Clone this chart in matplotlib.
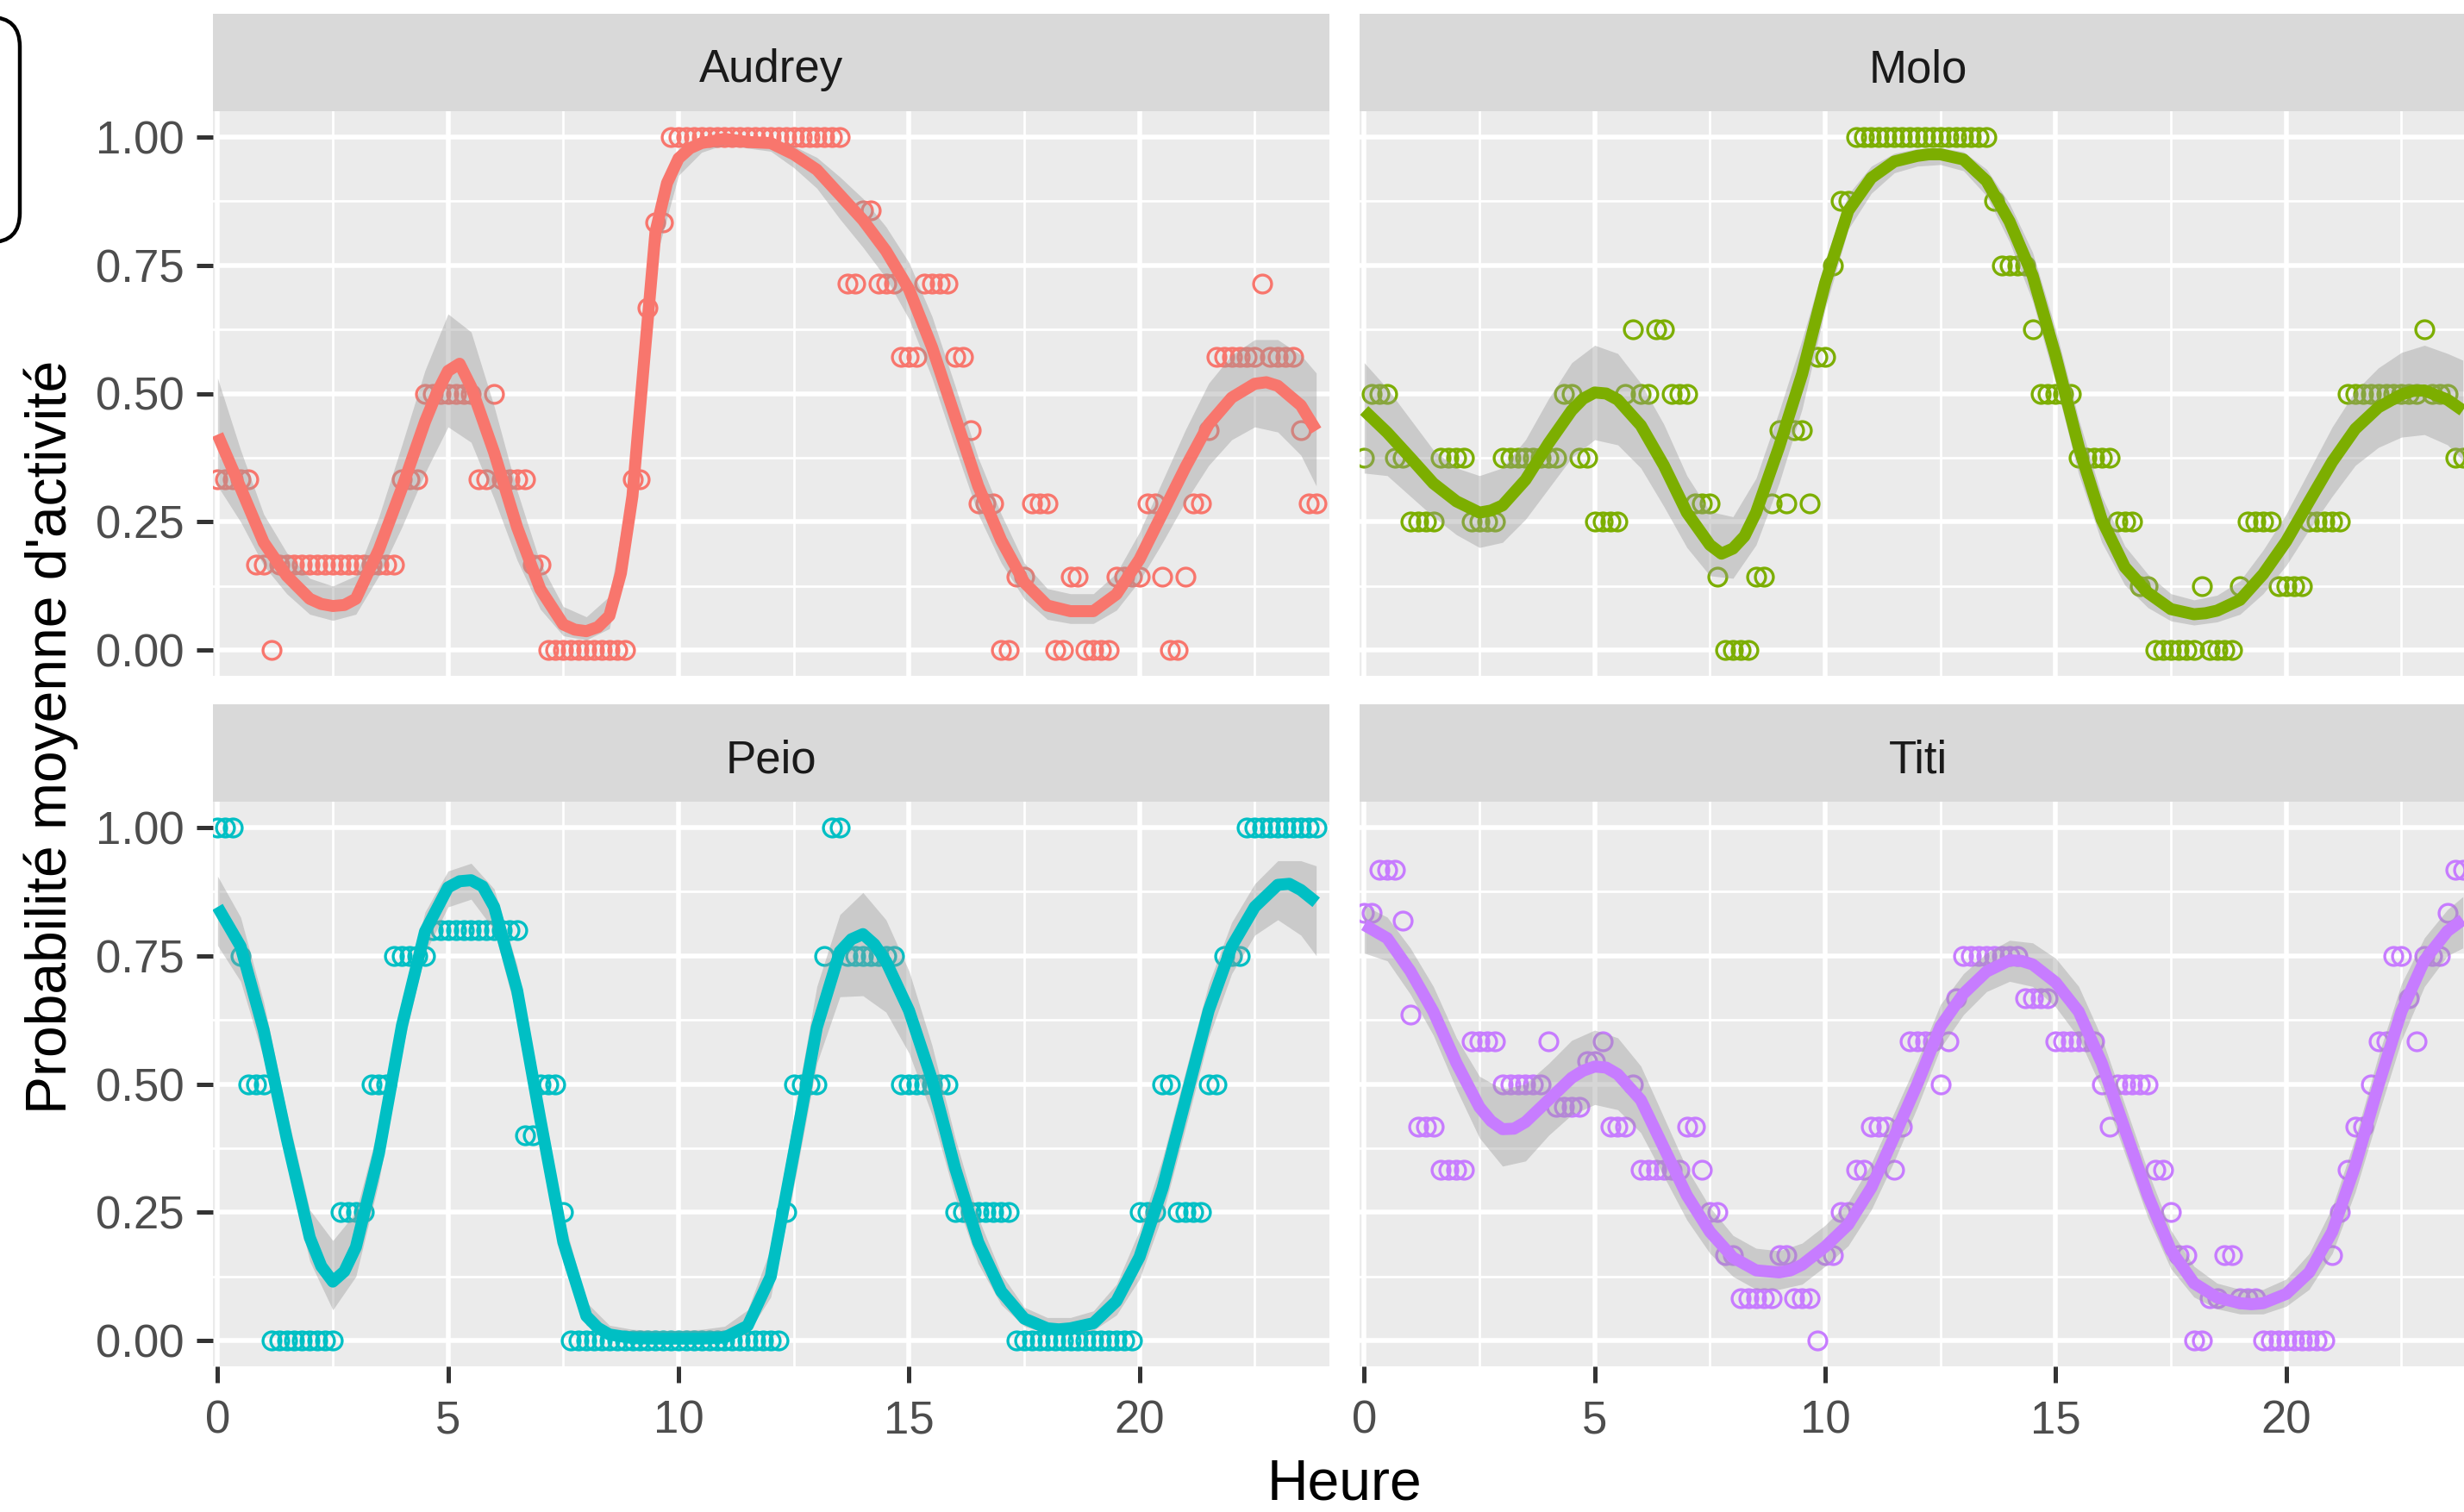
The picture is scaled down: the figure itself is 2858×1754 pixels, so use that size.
import numpy as np
import matplotlib.pyplot as plt
from matplotlib.patches import FancyBboxPatch

plt.rcParams['font.family'] = ['Liberation Sans', 'DejaVu Sans']

# une moyenne toutes les 10 minutes, de 0h a 23h50
heures = np.arange(144) / 6

audrey = [0.333, 0.333, 0.333, 0.333, 0.333, 0.167, 0.167, 0.0, 0.167, 0.167, 0.167, 0.167,
          0.167, 0.167, 0.167, 0.167, 0.167, 0.167, 0.167, 0.167, 0.167, 0.167, 0.167, 0.167,
          0.333, 0.333, 0.333, 0.5, 0.5, 0.5, 0.5, 0.5, 0.5, 0.5, 0.333, 0.333,
          0.5, 0.333, 0.333, 0.333, 0.333, 0.167, 0.167, 0.0, 0.0, 0.0, 0.0, 0.0,
          0.0, 0.0, 0.0, 0.0, 0.0, 0.0, 0.333, 0.333, 0.667, 0.833, 0.833, 1.0,
          1.0, 1.0, 1.0, 1.0, 1.0, 1.0, 1.0, 1.0, 1.0, 1.0, 1.0, 1.0,
          1.0, 1.0, 1.0, 1.0, 1.0, 1.0, 1.0, 1.0, 1.0, 1.0, 0.714, 0.714,
          0.857, 0.857, 0.714, 0.714, 0.714, 0.571, 0.571, 0.571, 0.714, 0.714, 0.714, 0.714,
          0.571, 0.571, 0.429, 0.286, 0.286, 0.286, 0.0, 0.0, 0.143, 0.143, 0.286, 0.286,
          0.286, 0.0, 0.0, 0.143, 0.143, 0.0, 0.0, 0.0, 0.0, 0.143, 0.143, 0.143,
          0.143, 0.286, 0.286, 0.143, 0.0, 0.0, 0.143, 0.286, 0.286, 0.429, 0.571, 0.571,
          0.571, 0.571, 0.571, 0.571, 0.714, 0.571, 0.571, 0.571, 0.571, 0.429, 0.286, 0.286]

molo = [0.375, 0.5, 0.5, 0.5, 0.375, 0.375, 0.25, 0.25, 0.25, 0.25, 0.375, 0.375,
        0.375, 0.375, 0.25, 0.25, 0.25, 0.25, 0.375, 0.375, 0.375, 0.375, 0.375, 0.375,
        0.375, 0.375, 0.5, 0.5, 0.375, 0.375, 0.25, 0.25, 0.25, 0.25, 0.5, 0.625,
        0.5, 0.5, 0.625, 0.625, 0.5, 0.5, 0.5, 0.286, 0.286, 0.286, 0.143, 0.0,
        0.0, 0.0, 0.0, 0.143, 0.143, 0.286, 0.429, 0.286, 0.429, 0.429, 0.286, 0.571,
        0.571, 0.75, 0.875, 0.875, 1.0, 1.0, 1.0, 1.0, 1.0, 1.0, 1.0, 1.0,
        1.0, 1.0, 1.0, 1.0, 1.0, 1.0, 1.0, 1.0, 1.0, 1.0, 0.875, 0.75,
        0.75, 0.75, 0.75, 0.625, 0.5, 0.5, 0.5, 0.5, 0.5, 0.375, 0.375, 0.375,
        0.375, 0.375, 0.25, 0.25, 0.25, 0.125, 0.125, 0.0, 0.0, 0.0, 0.0, 0.0,
        0.0, 0.125, 0.0, 0.0, 0.0, 0.0, 0.125, 0.25, 0.25, 0.25, 0.25, 0.125,
        0.125, 0.125, 0.125, 0.25, 0.25, 0.25, 0.25, 0.25, 0.5, 0.5, 0.5, 0.5,
        0.5, 0.5, 0.5, 0.5, 0.5, 0.5, 0.625, 0.5, 0.5, 0.5, 0.375, 0.375]

peio = [1.0, 1.0, 1.0, 0.75, 0.5, 0.5, 0.5, 0.0, 0.0, 0.0, 0.0, 0.0,
        0.0, 0.0, 0.0, 0.0, 0.25, 0.25, 0.25, 0.25, 0.5, 0.5, 0.5, 0.75,
        0.75, 0.75, 0.75, 0.75, 0.8, 0.8, 0.8, 0.8, 0.8, 0.8, 0.8, 0.8,
        0.8, 0.8, 0.8, 0.8, 0.4, 0.4, 0.5, 0.5, 0.5, 0.25, 0.0, 0.0,
        0.0, 0.0, 0.0, 0.0, 0.0, 0.0, 0.0, 0.0, 0.0, 0.0, 0.0, 0.0,
        0.0, 0.0, 0.0, 0.0, 0.0, 0.0, 0.0, 0.0, 0.0, 0.0, 0.0, 0.0,
        0.0, 0.0, 0.25, 0.5, 0.5, 0.5, 0.5, 0.75, 1.0, 1.0, 0.75, 0.75,
        0.75, 0.75, 0.75, 0.75, 0.75, 0.5, 0.5, 0.5, 0.5, 0.5, 0.5, 0.5,
        0.25, 0.25, 0.25, 0.25, 0.25, 0.25, 0.25, 0.25, 0.0, 0.0, 0.0, 0.0,
        0.0, 0.0, 0.0, 0.0, 0.0, 0.0, 0.0, 0.0, 0.0, 0.0, 0.0, 0.0,
        0.25, 0.25, 0.25, 0.5, 0.5, 0.25, 0.25, 0.25, 0.25, 0.5, 0.5, 0.75,
        0.75, 0.75, 1.0, 1.0, 1.0, 1.0, 1.0, 1.0, 1.0, 1.0, 1.0, 1.0]

titi = [0.833, 0.833, 0.917, 0.917, 0.917, 0.818, 0.636, 0.417, 0.417, 0.417, 0.333, 0.333,
        0.333, 0.333, 0.583, 0.583, 0.583, 0.583, 0.5, 0.5, 0.5, 0.5, 0.5, 0.5,
        0.583, 0.455, 0.455, 0.455, 0.455, 0.545, 0.545, 0.583, 0.417, 0.417, 0.417, 0.5,
        0.333, 0.333, 0.333, 0.333, 0.333, 0.333, 0.417, 0.417, 0.333, 0.25, 0.25, 0.167,
        0.167, 0.083, 0.083, 0.083, 0.083, 0.083, 0.167, 0.167, 0.083, 0.083, 0.083, 0.0,
        0.167, 0.167, 0.25, 0.25, 0.333, 0.333, 0.417, 0.417, 0.417, 0.333, 0.417, 0.583,
        0.583, 0.583, 0.583, 0.5, 0.583, 0.667, 0.75, 0.75, 0.75, 0.75, 0.75, 0.75,
        0.75, 0.75, 0.667, 0.667, 0.667, 0.667, 0.583, 0.583, 0.583, 0.583, 0.583, 0.583,
        0.5, 0.417, 0.5, 0.5, 0.5, 0.5, 0.5, 0.333, 0.333, 0.25, 0.167, 0.167,
        0.0, 0.0, 0.083, 0.083, 0.167, 0.167, 0.083, 0.083, 0.083, 0.0, 0.0, 0.0,
        0.0, 0.0, 0.0, 0.0, 0.0, 0.0, 0.167, 0.25, 0.333, 0.417, 0.417, 0.5,
        0.583, 0.583, 0.75, 0.75, 0.667, 0.583, 0.75, 0.75, 0.75, 0.833, 0.917, 0.917]

# courbes lissees (geom_smooth) relevees toutes les demi-heures, avec l'intervalle de confiance
lisse_x = np.append(np.arange(0, 24, 0.5), 23.833)

audrey_lisse = [0.42, 0.316, 0.21, 0.145, 0.10, 0.086, 0.10, 0.196, 0.316, 0.445, 0.544, 0.513,
                0.385, 0.239, 0.119, 0.05, 0.037, 0.067, 0.30, 0.815, 0.958, 0.988, 0.996, 0.99,
                0.988, 0.966, 0.936, 0.887, 0.838, 0.778, 0.703, 0.59, 0.455, 0.32, 0.214, 0.132,
                0.087, 0.076, 0.076, 0.109, 0.177, 0.267, 0.357, 0.44, 0.492, 0.519, 0.515, 0.477, 0.428]
audrey_bas = [0.32, 0.25, 0.165, 0.11, 0.07, 0.058, 0.07, 0.145, 0.24, 0.345, 0.435, 0.405,
              0.295, 0.175, 0.08, 0.028, 0.02, 0.042, 0.25, 0.76, 0.925, 0.97, 0.985, 0.978,
              0.972, 0.94, 0.90, 0.84, 0.785, 0.725, 0.645, 0.53, 0.395, 0.265, 0.17, 0.10,
              0.06, 0.052, 0.052, 0.078, 0.135, 0.21, 0.29, 0.36, 0.41, 0.435, 0.425, 0.38, 0.32]
audrey_haut = [0.53, 0.39, 0.265, 0.19, 0.14, 0.125, 0.145, 0.26, 0.40, 0.545, 0.655, 0.62,
               0.475, 0.31, 0.17, 0.085, 0.065, 0.105, 0.355, 0.86, 0.978, 0.996, 0.999, 0.997,
               0.996, 0.982, 0.96, 0.922, 0.88, 0.825, 0.755, 0.65, 0.515, 0.375, 0.265, 0.17,
               0.12, 0.11, 0.11, 0.15, 0.23, 0.33, 0.43, 0.52, 0.575, 0.605, 0.605, 0.575, 0.54]

molo_lisse = [0.467, 0.424, 0.375, 0.325, 0.29, 0.268, 0.282, 0.332, 0.403, 0.467, 0.502, 0.488,
              0.438, 0.36, 0.268, 0.205, 0.198, 0.268, 0.396, 0.538, 0.715, 0.856, 0.92, 0.952,
              0.963, 0.966, 0.956, 0.914, 0.835, 0.73, 0.573, 0.396, 0.254, 0.162, 0.112, 0.08,
              0.07, 0.077, 0.098, 0.148, 0.212, 0.29, 0.367, 0.431, 0.473, 0.498, 0.506, 0.488, 0.467]
molo_bas = [0.345, 0.34, 0.30, 0.26, 0.225, 0.20, 0.21, 0.255, 0.315, 0.375, 0.41, 0.40,
            0.355, 0.28, 0.20, 0.145, 0.14, 0.205, 0.325, 0.47, 0.665, 0.82, 0.89, 0.93,
            0.943, 0.946, 0.934, 0.885, 0.795, 0.68, 0.52, 0.343, 0.21, 0.127, 0.083, 0.057,
            0.049, 0.055, 0.07, 0.11, 0.165, 0.235, 0.30, 0.36, 0.395, 0.415, 0.42, 0.40, 0.37]
molo_haut = [0.56, 0.51, 0.45, 0.39, 0.355, 0.34, 0.355, 0.41, 0.49, 0.56, 0.594, 0.578,
             0.52, 0.44, 0.34, 0.27, 0.26, 0.335, 0.465, 0.605, 0.76, 0.888, 0.943, 0.968,
             0.977, 0.979, 0.971, 0.937, 0.87, 0.775, 0.625, 0.45, 0.30, 0.203, 0.148, 0.11,
             0.098, 0.107, 0.135, 0.195, 0.265, 0.35, 0.435, 0.505, 0.55, 0.58, 0.594, 0.578, 0.565]

peio_lisse = [0.845, 0.768, 0.605, 0.394, 0.201, 0.115, 0.182, 0.365, 0.614, 0.797, 0.883, 0.897,
              0.845, 0.682, 0.432, 0.192, 0.048, 0.012, 0.005, 0.004, 0.004, 0.004, 0.006, 0.029,
              0.125, 0.365, 0.61, 0.758, 0.792, 0.739, 0.643, 0.508, 0.336, 0.192, 0.096, 0.043,
              0.024, 0.024, 0.034, 0.077, 0.163, 0.297, 0.47, 0.643, 0.768, 0.845, 0.888, 0.878, 0.854]
peio_bas = [0.77, 0.70, 0.55, 0.345, 0.155, 0.06, 0.125, 0.31, 0.565, 0.755, 0.845, 0.86,
            0.80, 0.63, 0.38, 0.15, 0.03, 0.006, 0.002, 0.002, 0.002, 0.002, 0.002, 0.014,
            0.085, 0.30, 0.54, 0.67, 0.672, 0.64, 0.56, 0.44, 0.28, 0.15, 0.07, 0.028,
            0.014, 0.014, 0.02, 0.05, 0.12, 0.245, 0.415, 0.59, 0.715, 0.79, 0.82, 0.79, 0.75]
peio_haut = [0.905, 0.825, 0.66, 0.445, 0.255, 0.195, 0.25, 0.42, 0.66, 0.835, 0.915, 0.93,
             0.88, 0.73, 0.485, 0.24, 0.075, 0.03, 0.022, 0.02, 0.02, 0.022, 0.028, 0.06,
             0.18, 0.435, 0.69, 0.83, 0.873, 0.82, 0.72, 0.575, 0.395, 0.24, 0.13, 0.065,
             0.045, 0.045, 0.058, 0.11, 0.215, 0.355, 0.525, 0.695, 0.815, 0.89, 0.935, 0.935, 0.925]

titi_lisse = [0.81, 0.784, 0.72, 0.641, 0.541, 0.455, 0.412, 0.426, 0.469, 0.512, 0.534, 0.519,
              0.469, 0.376, 0.283, 0.212, 0.162, 0.137, 0.133, 0.148, 0.183, 0.226, 0.298, 0.398,
              0.50, 0.612, 0.676, 0.719, 0.741, 0.733, 0.698, 0.641, 0.541, 0.412, 0.283, 0.176,
              0.112, 0.084, 0.073, 0.073, 0.091, 0.133, 0.212, 0.341, 0.497, 0.641, 0.741, 0.798, 0.82]
titi_bas = [0.755, 0.74, 0.675, 0.595, 0.49, 0.395, 0.34, 0.35, 0.40, 0.44, 0.46, 0.45,
            0.405, 0.32, 0.235, 0.17, 0.125, 0.10, 0.10, 0.11, 0.145, 0.185, 0.255, 0.35,
            0.455, 0.57, 0.635, 0.68, 0.70, 0.69, 0.65, 0.59, 0.49, 0.365, 0.24, 0.14,
            0.085, 0.062, 0.052, 0.052, 0.067, 0.10, 0.17, 0.29, 0.44, 0.585, 0.69, 0.75, 0.765]
titi_haut = [0.848, 0.825, 0.765, 0.69, 0.59, 0.515, 0.49, 0.50, 0.54, 0.585, 0.605, 0.59,
             0.535, 0.435, 0.335, 0.26, 0.205, 0.18, 0.175, 0.19, 0.225, 0.27, 0.345, 0.445,
             0.545, 0.655, 0.715, 0.755, 0.78, 0.775, 0.745, 0.69, 0.59, 0.46, 0.33, 0.215,
             0.145, 0.112, 0.10, 0.10, 0.12, 0.17, 0.26, 0.395, 0.555, 0.695, 0.785, 0.84, 0.865]

# releves supplementaires de la courbe autour des sommets et des creux
audrey_sup_x = [2.25, 2.75, 4.75, 5.25, 7.75, 8.25, 8.75, 9.25, 9.75, 10.25, 22.75]
audrey_sup_y = [0.09, 0.088, 0.50, 0.558, 0.04, 0.045, 0.15, 0.56, 0.91, 0.978, 0.522]
molo_sup_x = [2.75, 4.75, 5.25, 7.75, 8.25, 12.25, 18.25, 22.75]
molo_sup_y = [0.272, 0.49, 0.50, 0.188, 0.222, 0.966, 0.072, 0.505]
peio_sup_x = [2.25, 2.75, 5.25, 5.75, 8.25, 13.75, 14.25, 18.25, 23.25]
peio_sup_y = [0.145, 0.135, 0.895, 0.885, 0.025, 0.782, 0.772, 0.022, 0.89]
titi_sup_x = [2.75, 3.25, 4.75, 5.25, 9.25, 14.25, 19.25]
titi_sup_y = [0.428, 0.413, 0.526, 0.532, 0.137, 0.74, 0.071]

noms = ['Audrey', 'Molo', 'Peio', 'Titi']
couleurs = ['#F8766D', '#7CAE00', '#00BFC4', '#C77CFF']
points = [audrey, molo, peio, titi]
lisses = [audrey_lisse, molo_lisse, peio_lisse, titi_lisse]
bas = [audrey_bas, molo_bas, peio_bas, titi_bas]
hauts = [audrey_haut, molo_haut, peio_haut, titi_haut]
sup_x = [audrey_sup_x, molo_sup_x, peio_sup_x, titi_sup_x]
sup_y = [audrey_sup_y, molo_sup_y, peio_sup_y, titi_sup_y]

W, H = 2858, 1754
fig = plt.figure(figsize=(W / 100, H / 100), dpi=100)


def zone(x0, haut, w, h):
    # coordonnees en pixels depuis le coin haut gauche
    return fig.add_axes([x0 / W, 1 - (haut + h) / H, w / W, h / H])


cols = [247, 1577]
largeur = 1295
bandes = [16, 817]
panneaux = [129, 930]
h_bande, h_panneau = 113, 655

for i, nom in enumerate(noms):
    r, c = divmod(i, 2)
    # bandeau gris avec le nom
    sb = zone(cols[c], bandes[r], largeur, h_bande)
    sb.set_facecolor('#D9D9D9')
    sb.set_xticks([])
    sb.set_yticks([])
    for s in sb.spines.values():
        s.set_visible(False)
    sb.text(0.5, 0.30, nom, ha='center', va='baseline', fontsize=38, color='#1A1A1A',
            transform=sb.transAxes)

    ax = zone(cols[c], panneaux[r], largeur, h_panneau)
    ax.set_facecolor('#EBEBEB')
    for s in ax.spines.values():
        s.set_visible(False)
    ax.set_axisbelow(True)
    ax.set_xlim(-0.1, 24.12)
    ax.set_ylim(-0.05, 1.05)
    ax.set_xticks([0, 5, 10, 15, 20])
    ax.set_xticks([2.5, 7.5, 12.5, 17.5, 22.5], minor=True)
    ax.set_yticks([0, 0.25, 0.5, 0.75, 1.0])
    ax.set_yticklabels(['0.00', '0.25', '0.50', '0.75', '1.00'])
    ax.set_yticks([0.125, 0.375, 0.625, 0.875], minor=True)
    ax.grid(which='major', color='white', linewidth=4)
    ax.grid(which='minor', color='white', linewidth=2)
    ax.tick_params(which='minor', length=0)
    ax.tick_params(which='major', length=14, width=3.6, color='#333333',
                   labelsize=38, labelcolor='#4D4D4D')
    ax.tick_params(axis='x', pad=14)
    ax.tick_params(axis='y', pad=10)
    if r == 0:
        ax.tick_params(axis='x', which='both', length=0, labelbottom=False)
    if c == 1:
        ax.tick_params(axis='y', which='both', length=0, labelleft=False)

    ax.plot(heures, points[i], 'o', ms=15, mfc='none', mec=couleurs[i], mew=2.4, zorder=2)
    ax.fill_between(lisse_x, bas[i], hauts[i], color='#999999', alpha=0.4, lw=0, zorder=3)

    lx = np.concatenate([lisse_x, sup_x[i]])
    ly = np.concatenate([lisses[i], sup_y[i]])
    ordre = np.argsort(lx)
    ax.plot(lx[ordre], ly[ordre], color=couleurs[i], lw=10, zorder=4,
            solid_joinstyle='round', solid_capstyle='butt')

fig.text(1559 / W, 1 - 1739 / H, 'Heure', ha='center', va='baseline', fontsize=47.5,
         color='black')
fig.text(77 / W, 1 - 855 / H, "Probabilité moyenne d'activité", ha='center', va='baseline',
         rotation=90, rotation_mode='anchor', fontsize=47.5, color='black')

# cadre de legende coupe sur le bord gauche
cadre = FancyBboxPatch((-1.0, (H - 281) / 100), 1.23, 2.61,
                       boxstyle='round,pad=0,rounding_size=0.34',
                       transform=fig.dpi_scale_trans, fill=False, ec='black', lw=3.2)
fig.add_artist(cadre)

fig.savefig('out.png', dpi=100, facecolor='white')
